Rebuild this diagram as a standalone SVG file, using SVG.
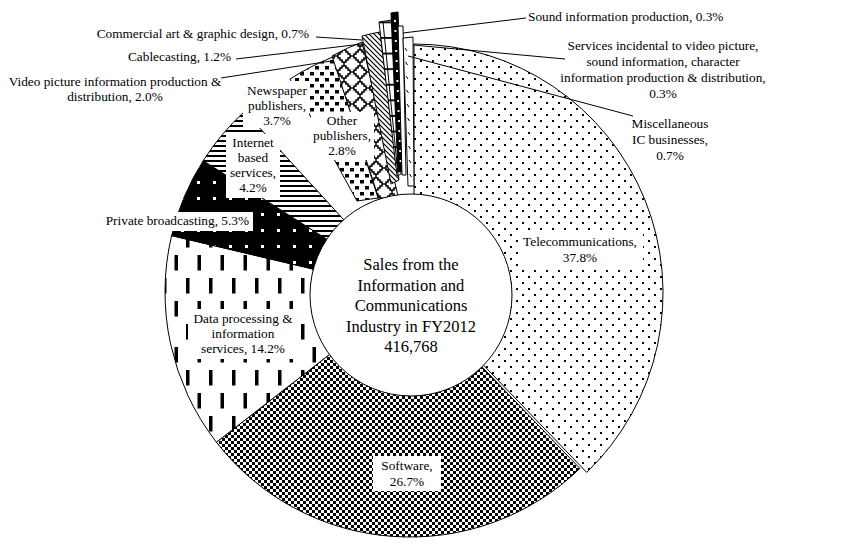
<svg xmlns="http://www.w3.org/2000/svg" width="856" height="545" viewBox="0 0 856 545">
<defs>
<style>
.s{stroke:#000;stroke-width:1;stroke-linejoin:round}
.lbl{font-family:"Liberation Serif","Times New Roman",serif;font-size:13.3px;fill:#000}
.ctr{font-family:"Liberation Serif","Times New Roman",serif;font-size:16.5px;fill:#000}
.box{fill:#fff;stroke:none}
.ln{stroke:#000;stroke-width:1;fill:none}
</style>
<pattern id="pTel" patternUnits="userSpaceOnUse" width="12" height="12"><rect width="12" height="12" fill="#fff"/><rect x="0" y="0" width="2" height="2" fill="#000"/><rect x="6" y="6" width="2" height="2" fill="#000"/></pattern>
<pattern id="pSoft" patternUnits="userSpaceOnUse" width="6" height="6"><rect width="6" height="6" fill="#fff"/><rect x="0" y="0" width="3" height="3" fill="#000"/><rect x="3" y="3" width="3" height="3" fill="#000"/></pattern>
<pattern id="pData" patternUnits="userSpaceOnUse" width="23" height="46"><rect width="23" height="46" fill="#fff"/><rect x="2" y="2" width="3.5" height="15.5" fill="#000"/><rect x="13.5" y="25" width="3.5" height="15.5" fill="#000"/></pattern>
<pattern id="pPriv" patternUnits="userSpaceOnUse" width="16" height="16"><rect width="16" height="16" fill="#000"/><rect x="5" y="5" width="3" height="3" fill="#fff"/></pattern>
<pattern id="pNet" patternUnits="userSpaceOnUse" width="10" height="5"><rect width="10" height="5" fill="#fff"/><rect x="0" y="0" width="10" height="2" fill="#000"/></pattern>
<pattern id="pNews" patternUnits="userSpaceOnUse" width="10" height="12"><rect width="10" height="12" fill="#fff"/><rect x="0" y="0" width="4" height="3.5" fill="#000"/><rect x="5" y="6" width="4" height="3.5" fill="#000"/></pattern>
<pattern id="pLat" patternUnits="userSpaceOnUse" width="16" height="16"><rect width="16" height="16" fill="#fff"/><path d="M0,8 L2,8 L2,6 L4,6 L4,4 L6,4 L6,2 L8,2 L8,0 M8,0 L8,2 L10,2 L10,4 L12,4 L12,6 L14,6 L14,8 L16,8 M0,8 L2,8 L2,10 L4,10 L4,12 L6,12 L6,14 L8,14 L8,16 M8,16 L8,14 L10,14 L10,12 L12,12 L12,10 L14,10 L14,8 L16,8" fill="none" stroke="#000" stroke-width="1.5"/></pattern>
<pattern id="pHatch" patternUnits="userSpaceOnUse" width="5" height="5"><rect width="5" height="5" fill="#fff"/><path d="M0,0 L5,5 M-1,4 L1,6 M4,-1 L6,1" stroke="#000" stroke-width="1.2"/></pattern>
<pattern id="pRung" patternUnits="userSpaceOnUse" x="0" y="37" width="20" height="15.6"><rect width="20" height="15.6" fill="#fff"/><rect x="0" y="0" width="20" height="1.8" fill="#000"/></pattern>
</defs>
<rect width="856" height="545" fill="#fff"/>
<g id="slices">
<g id="slice-telecom"><path class="s" fill="url(#pTel)" d="M414,293 L414,44 A249,249 0 0 1 586.7,472.4 Z"/></g>
<g id="slice-software"><path class="s" fill="url(#pSoft)" d="M410,292 L579.9,468.5 A245,245 0 0 1 216.4,442.2 Z"/></g>
<g id="slice-data"><path class="s" fill="url(#pData)" d="M410,292 L216.4,442.2 A245,245 0 0 1 171.6,235.6 Z"/></g>
<g id="slice-private"><path class="s" fill="url(#pPriv)" d="M410,292 L171.6,235.6 A245,245 0 0 1 203.2,160.7 Z"/></g>
<g id="slice-internet"><path class="s" fill="url(#pNet)" d="M410,292 L203.2,160.7 A245,245 0 0 1 244.5,111.4 Z"/></g>
<g id="slice-newspaper"><path class="s" fill="url(#pNews)" d="M357,201 L290,79 A250,250 0 0 1 333,57 L378,198 Z"/></g>
<g id="slice-other"><path class="s" fill="url(#pLat)" d="M379,199 L332,56 A250,250 0 0 1 362,42 L398,196 Z"/></g>
<g id="slice-video"><path class="s" fill="url(#pHatch)" d="M391,184 L362,36 A250,250 0 0 1 380,32 L399,180 Z"/></g>
<g id="slice-cable"><path class="s" fill="url(#pRung)" d="M397,176 L379,22 L392,20 L401,174 Z"/><path class="ln" d="M383,22 L398,175"/></g>
<g id="slice-commercial"><path class="s" fill="#000" d="M398,172 L391,13 L398,12 L404,171 Z"/>
<g fill="#fff"><rect x="394" y="20" width="2" height="2"/><rect x="394.4" y="30" width="2" height="2"/><rect x="394.8" y="40" width="2" height="2"/><rect x="395.2" y="50" width="2" height="2"/><rect x="395.6" y="60" width="2" height="2"/><rect x="396" y="70" width="2" height="2"/><rect x="396.4" y="80" width="2" height="2"/><rect x="396.8" y="90" width="2" height="2"/><rect x="397.2" y="100" width="2" height="2"/><rect x="397.6" y="110" width="2" height="2"/><rect x="398" y="120" width="2" height="2"/><rect x="398.4" y="130" width="2" height="2"/><rect x="398.8" y="140" width="2" height="2"/><rect x="399.2" y="150" width="2" height="2"/><rect x="399.6" y="160" width="2" height="2"/></g></g>
<g id="slice-sound"><path class="s" fill="#fff" d="M402,175 L398,26 L403,26 L406,175 Z"/></g>
<g id="slice-misc"><path class="s" fill="#fff" d="M408,186 L403,38 L413,37 L414,186 Z"/>
<path class="ln" stroke-width="1.3" d="M405,48 l2,3 M405.5,62 l2,3 M406,76 l2,3 M406.5,90 l2,3 M407,104 l2,3 M407.5,118 l2,3 M408,132 l2,3 M408.5,146 l2,3 M409,160 l2,3 M409.5,174 l2,3"/></g>
</g>
<g id="hole"><circle class="s" cx="411" cy="295" r="101" fill="#fff"/>
<text class="ctr" text-anchor="middle"><tspan x="411" y="270">Sales from the</tspan><tspan x="411" y="290.5">Information and</tspan><tspan x="411" y="311">Communications</tspan><tspan x="411" y="331.5">Industry in FY2012</tspan><tspan x="411" y="352">416,768</tspan></text></g>
<g id="connectors">
<path class="ln" d="M316,37 L362,40"/>
<path class="ln" d="M236,59 L362,44"/>
<path class="ln" d="M221,78 L331,61"/>
<path class="ln" d="M526,18 L403,33"/>
<path class="ln" d="M413,45 L565,59"/>
<path class="ln" d="M408,56 L633,116"/>
</g>
<g id="labels">
<g id="label-telecom"><rect class="box" x="518" y="232" width="125" height="35"/><text class="lbl" text-anchor="middle"><tspan x="580" y="246">Telecommunications,</tspan><tspan x="580" y="262">37.8%</tspan></text></g>
<g id="label-software"><rect class="box" x="373" y="456" width="68" height="35"/><text class="lbl" text-anchor="middle"><tspan x="407" y="470">Software,</tspan><tspan x="407" y="486">26.7%</tspan></text></g>
<g id="label-data"><rect class="box" x="188" y="309" width="110" height="50"/><text class="lbl" text-anchor="middle"><tspan x="243" y="323">Data processing &amp;</tspan><tspan x="243" y="338">information</tspan><tspan x="243" y="353">services, 14.2%</tspan></text></g>
<g id="label-private"><rect class="box" x="101" y="212" width="152" height="19"/><text class="lbl" text-anchor="end" x="249" y="225">Private broadcasting, 5.3%</text></g>
<g id="label-internet"><rect class="box" x="226" y="134" width="54" height="64"/><text class="lbl" text-anchor="middle"><tspan x="253" y="147">Internet</tspan><tspan x="253" y="162">based</tspan><tspan x="253" y="177">services,</tspan><tspan x="253" y="192">4.2%</tspan></text></g>
<g id="label-newspaper"><rect class="box" x="243" y="81" width="66" height="47"/><text class="lbl" text-anchor="middle"><tspan x="277" y="95">Newspaper</tspan><tspan x="277" y="110">publishers,</tspan><tspan x="277" y="125">3.7%</tspan></text></g>
<g id="label-other"><rect class="box" x="311" y="112" width="63" height="48"/><text class="lbl" text-anchor="middle"><tspan x="342" y="125">Other</tspan><tspan x="342" y="140">publishers,</tspan><tspan x="342" y="155">2.8%</tspan></text></g>
<g id="label-video"><text class="lbl" text-anchor="middle"><tspan x="115" y="86">Video picture information production &amp;</tspan><tspan x="115" y="101">distribution, 2.0%</tspan></text></g>
<g id="label-cable"><text class="lbl" text-anchor="end" x="231" y="61">Cablecasting, 1.2%</text></g>
<g id="label-commercial"><text class="lbl" text-anchor="end" x="309" y="38">Commercial art &amp; graphic design, 0.7%</text></g>
<g id="label-sound"><text class="lbl" x="528" y="21">Sound information production, 0.3%</text></g>
<g id="label-services"><text class="lbl" text-anchor="middle"><tspan x="663" y="50">Services incidental to video picture,</tspan><tspan x="663" y="66">sound information, character</tspan><tspan x="663" y="82">information production &amp; distribution,</tspan><tspan x="663" y="98">0.3%</tspan></text></g>
<g id="label-misc"><text class="lbl" text-anchor="middle"><tspan x="670" y="128">Miscellaneous</tspan><tspan x="670" y="144">IC businesses,</tspan><tspan x="670" y="160">0.7%</tspan></text></g>
</g>
</svg>
